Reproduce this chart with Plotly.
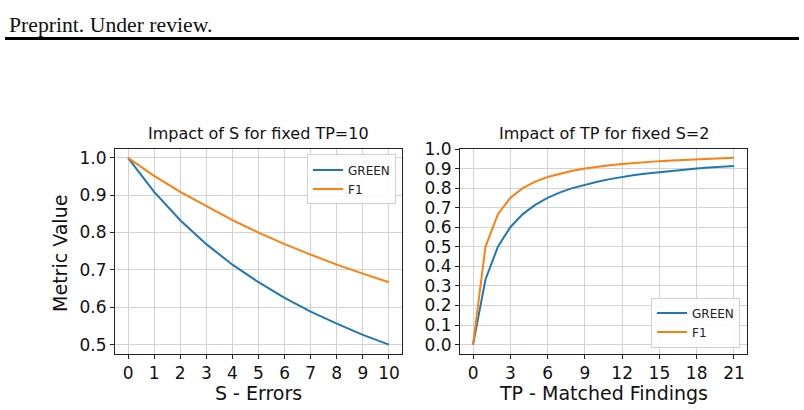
import plotly.graph_objects as go

# ---- data ----
s_errors = [0, 1, 2, 3, 4, 5, 6, 7, 8, 9, 10]
green_s = [1.0, 0.909, 0.833, 0.769, 0.714, 0.667, 0.625, 0.588, 0.556, 0.526, 0.5]
f1_s = [1.0, 0.952, 0.909, 0.870, 0.833, 0.800, 0.769, 0.741, 0.714, 0.690, 0.667]

tp_found = list(range(0, 22))
green_tp = [0.0, 0.333, 0.5, 0.6, 0.667, 0.714, 0.75, 0.778, 0.8, 0.818, 0.833,
            0.846, 0.857, 0.867, 0.875, 0.882, 0.889, 0.895, 0.9, 0.905, 0.909, 0.913]
f1_tp = [0.0, 0.5, 0.667, 0.75, 0.8, 0.833, 0.857, 0.875, 0.889, 0.9, 0.909,
         0.917, 0.923, 0.929, 0.933, 0.938, 0.941, 0.944, 0.947, 0.95, 0.952, 0.955]

left_xticks = list(range(0, 11))
right_xticks = [0, 3, 6, 9, 12, 15, 18, 21]

BLUE = "#1f77b4"
ORANGE = "#ff7f0e"
FONT = "DejaVu Sans"

fig = go.Figure()
fig.add_trace(go.Scatter(x=s_errors, y=green_s, mode="lines", name="GREEN",
                         line=dict(color=BLUE, width=2), xaxis="x", yaxis="y", legend="legend"))
fig.add_trace(go.Scatter(x=s_errors, y=f1_s, mode="lines", name="F1",
                         line=dict(color=ORANGE, width=2), xaxis="x", yaxis="y", legend="legend"))
fig.add_trace(go.Scatter(x=tp_found, y=green_tp, mode="lines", name="GREEN",
                         line=dict(color=BLUE, width=2), xaxis="x2", yaxis="y2", legend="legend2"))
fig.add_trace(go.Scatter(x=tp_found, y=f1_tp, mode="lines", name="F1",
                         line=dict(color=ORANGE, width=2), xaxis="x2", yaxis="y2", legend="legend2"))

W, H = 804, 410
def px(v):
    return v / W
def py(v):
    return (H - v) / H

axis_common = dict(showline=True, mirror=True, linecolor="#222222", linewidth=1,
                   ticks="outside", ticklen=4, tickcolor="#222222", tickwidth=1,
                   showgrid=True, gridcolor="#d3d3d3", gridwidth=1, zeroline=False,
                   tickfont=dict(family=FONT, size=17, color="#111111"))

ydom = [py(352.5), py(142)]
fig.update_layout(
    width=W, height=H, margin=dict(l=0, r=0, t=0, b=0),
    paper_bgcolor="white", plot_bgcolor="white",
    font=dict(family=FONT, color="#111111"),
    xaxis=dict(domain=[px(115), px(402)], range=[-0.5, 10.5], tickvals=left_xticks,
               anchor="y", **axis_common),
    yaxis=dict(domain=ydom, range=[0.475, 1.025], dtick=0.1, tick0=0, tickformat=".1f",
               anchor="x", **axis_common),
    xaxis2=dict(domain=[px(460), px(747)], range=[-1.05, 22.05], tickvals=right_xticks,
                anchor="y2", **axis_common),
    yaxis2=dict(domain=ydom, range=[-0.0477, 1.0024], dtick=0.1, tick0=0, tickformat=".1f",
                anchor="x2", **axis_common),
    legend=dict(x=px(396), y=py(148), xanchor="right", yanchor="top",
                bgcolor="rgba(255,255,255,0.85)", bordercolor="#d0d0d0", borderwidth=1,
                font=dict(family=FONT, size=12, color="#222222")),
    legend2=dict(x=px(740), y=py(346), xanchor="right", yanchor="bottom",
                 bgcolor="rgba(255,255,255,0.85)", bordercolor="#d0d0d0", borderwidth=1,
                 font=dict(family=FONT, size=12, color="#222222")),
)

annotations = [
    dict(text="Impact of S for fixed TP=10", x=px(258.5), y=py(138.5), xanchor="center", yanchor="bottom",
         font=dict(family=FONT, size=16, color="#111111")),
    dict(text="Impact of TP for fixed S=2", x=px(603.5), y=py(138.5), xanchor="center", yanchor="bottom",
         font=dict(family=FONT, size=16, color="#111111")),
    dict(text="S - Errors", x=px(258.5), y=py(393), xanchor="center", yanchor="middle",
         font=dict(family=FONT, size=19, color="#111111")),
    dict(text="TP - Matched Findings", x=px(603.5), y=py(393), xanchor="center", yanchor="middle",
         font=dict(family=FONT, size=19, color="#111111")),
    dict(text="Metric Value", x=px(60), y=py(249), xanchor="center", yanchor="middle", textangle=-90,
         font=dict(family=FONT, size=19, color="#111111")),
    dict(text="Preprint. Under review.", x=px(7), y=py(1), xanchor="left", yanchor="top",
         font=dict(family="Liberation Serif", size=21.7, color="#111111")),
]
for a in annotations:
    a.update(xref="paper", yref="paper", showarrow=False)
fig.update_layout(annotations=annotations)

fig.add_shape(type="line", xref="paper", yref="paper", x0=px(5), x1=px(799), y0=py(29.3), y1=py(29.3),
              line=dict(color="black", width=3))

fig.write_html("out.html")
